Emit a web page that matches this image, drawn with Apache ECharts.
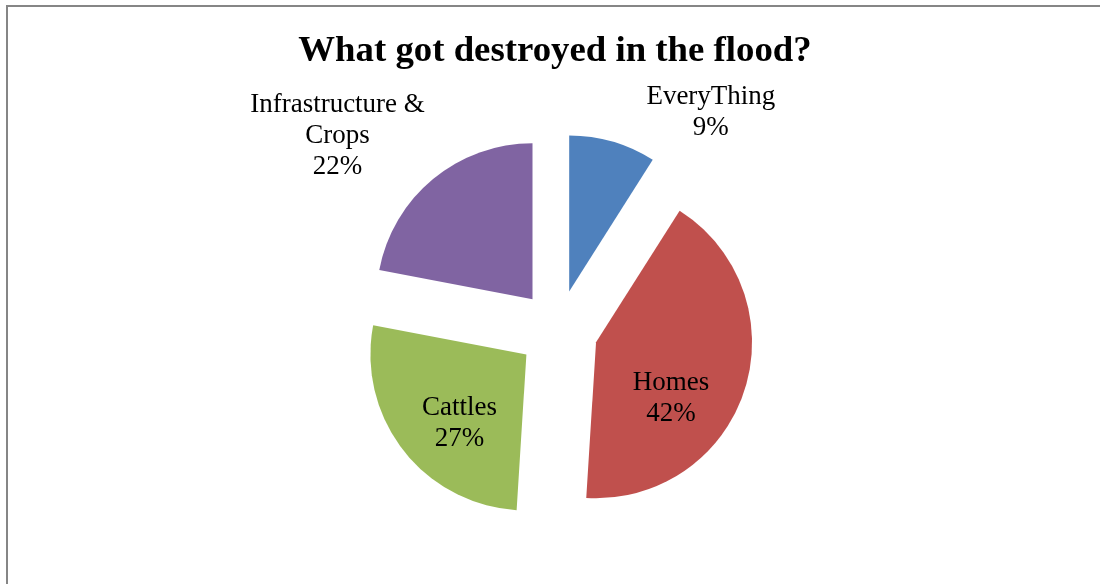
<!DOCTYPE html>
<html>
<head>
<meta charset="utf-8">
<script src="https://cdn.jsdelivr.net/npm/echarts@6/dist/echarts.min.js"></script>
<style>
html,body{margin:0;padding:0;background:#fff;}
#chart{width:1100px;height:584px;}
</style>
</head>
<body>
<div id="chart"></div>
<script>
const categories = ['EveryThing', 'Homes', 'Cattles', 'Infrastructure & Crops'];
const values = [9, 42, 27, 22];
const colors = ['#4F81BD', '#C0504D', '#9BBB59', '#8064A2'];
const labelPositions = ['outside', 'inside', 'inside', 'outside'];
// label nudges (dx, dy) relative to ECharts' default label anchor
const labelNudges = [[59, -15], [-2, 31], [-3, 19], [-51, -32]];

const chart = echarts.init(document.getElementById('chart'), null, {renderer: 'canvas'});
const font = '"Liberation Serif", "Times New Roman", serif';

function hPadding(n) {
  const dx = n[0];
  return [0, Math.max(0, -2 * dx), 0, Math.max(0, 2 * dx)];
}

const rich = {t: {fontFamily: font, fontSize: 27, lineHeight: 31, color: '#000', align: 'center'}};
labelNudges.forEach((n, i) => {
  rich['s' + i] = {height: Math.abs(2 * n[1]), lineHeight: Math.abs(2 * n[1]), fontSize: 1, align: 'center'};
});

const data = categories.map((c, i) => ({
  name: c,
  value: values[i],
  selected: true,
  itemStyle: {color: colors[i]},
  label: {position: labelPositions[i], padding: hPadding(labelNudges[i])}
}));

chart.setOption({
  animation: false,
  backgroundColor: '#ffffff',
  title: {
    text: 'What got destroyed in the flood?',
    left: 550,
    top: 28,
    textAlign: 'center',
    textStyle: {fontFamily: font, fontSize: 36.8, fontWeight: 'bold', color: '#000'}
  },
  graphic: [{
    type: 'rect',
    shape: {x: 7, y: 6, width: 1200, height: 700},
    style: {fill: 'none', stroke: '#868686', lineWidth: 2},
    silent: true
  }],
  series: [{
    type: 'pie',
    center: [558, 330],
    radius: [0, 156],
    startAngle: 90,
    clockwise: true,
    selectedMode: 'multiple',
    selectedOffset: 40,
    percentPrecision: 0,
    avoidLabelOverlap: false,
    labelLine: {show: false},
    emphasis: {disabled: true},
    itemStyle: {borderWidth: 0},
    label: {
      fontFamily: font,
      fontSize: 27,
      lineHeight: 31,
      color: '#000',
      rich: rich,
      formatter: function (p) {
        const lines = p.name.replace(' & ', ' &\n').split('\n');
        lines.push(p.percent + '%');
        let txt = lines.map(l => '{t|' + l + '}').join('\n');
        const dy = labelNudges[p.dataIndex][1];
        const sp = '{s' + p.dataIndex + '| }';
        if (dy > 0) txt = sp + '\n' + txt;
        else if (dy < 0) txt = txt + '\n' + sp;
        return txt;
      }
    },
    labelLayout: function () {
      return {align: 'center', verticalAlign: 'middle'};
    },
    data: data
  }]
});
</script>
</body>
</html>
